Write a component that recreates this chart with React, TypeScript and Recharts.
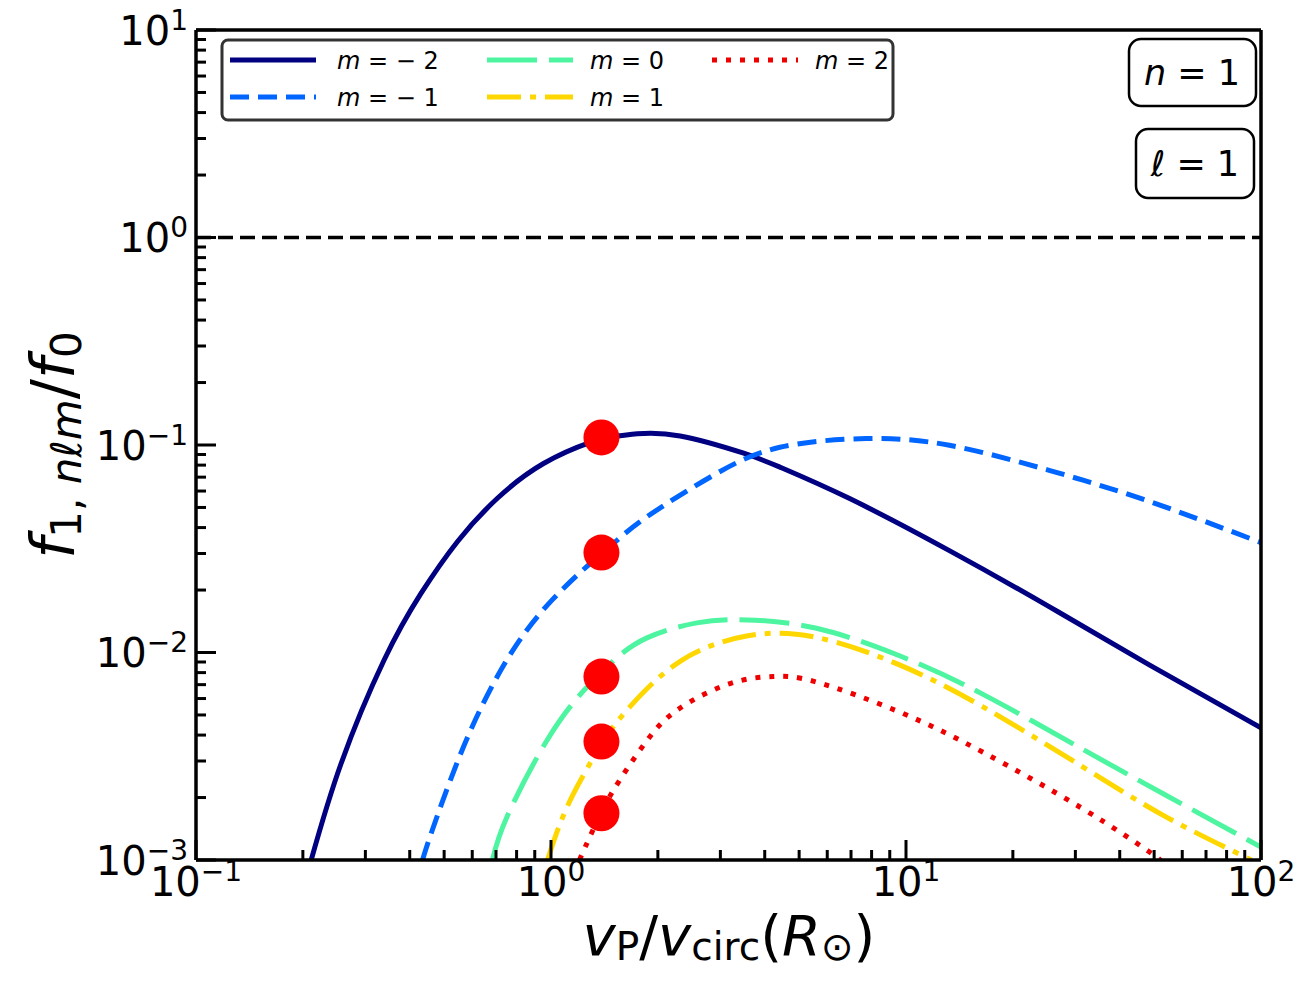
import React from 'react';
import { ComposedChart, Line, Scatter, XAxis, YAxis, ReferenceLine } from 'recharts';

// ---- data ----
const mNeg2X = [0.2111, 0.2563, 0.3385, 0.4299, 0.5462, 0.7077, 0.9526, 1.291, 1.498, 1.75, 2.311, 3.472, 4.412, 6.938, 13.25, 25.3, 48.31, 100];
const mNeg2Y = [0.001, 0.002918, 0.009172, 0.0192, 0.03439, 0.05555, 0.08141, 0.10292, 0.10965, 0.11324, 0.11051, 0.09151, 0.07824, 0.05517, 0.03097, 0.01664, 0.008744, 0.00433];

const mNeg1X = [0.4346, 0.4637, 0.5508, 0.6618, 0.8036, 1.0078, 1.2769, 1.501, 1.8632, 2.866, 4.412, 7.731, 13.25, 25.3, 48.31, 100];
const mNeg1Y = [0.001, 0.001403, 0.003112, 0.006226, 0.01104, 0.01793, 0.02646, 0.0336, 0.04508, 0.07145, 0.09748, 0.10735, 0.09968, 0.07551, 0.05355, 0.03386];

const m0X = [0.6837, 0.7534, 0.9757, 1.2361, 1.501, 1.8632, 2.574, 3.557, 5.595, 9.587, 16.43, 31.38, 53.82, 100];
const m0Y = [0.001, 0.001629, 0.003787, 0.006553, 0.009141, 0.01176, 0.01389, 0.01436, 0.01308, 0.00964, 0.006302, 0.003423, 0.002057, 0.001154];

const m1X = [0.9776, 1.0409, 1.1589, 1.4018, 1.6722, 2.311, 3.557, 5.595, 9.587, 16.43, 31.38, 53.82, 94.0];
const m1Y = [0.001, 0.001373, 0.002098, 0.003712, 0.005503, 0.00907, 0.01201, 0.01183, 0.008713, 0.005485, 0.002819, 0.001619, 0.001];

const m2X = [1.2025, 1.319, 1.3866, 1.501, 1.8632, 2.311, 3.193, 4.225, 5.595, 9.587, 16.43, 31.38, 48.31, 51.88];
const m2Y = [0.001, 0.001418, 0.001684, 0.002175, 0.003766, 0.0054, 0.007088, 0.007661, 0.007207, 0.005167, 0.003315, 0.001771, 0.001099, 0.001];

const dotX = [1.387, 1.387, 1.387, 1.387, 1.387];
const dotY = [0.1087, 0.0303, 0.00766, 0.00372, 0.00168];

const xMajorTicks = [0.1, 1, 10, 100];
const xMinorTicks = [0.2, 0.3, 0.4, 0.5, 0.6, 0.7, 0.8, 0.9, 2, 3, 4, 5, 6, 7, 8, 9, 20, 30, 40, 50, 60, 70, 80, 90];
const yMajorTicks = [0.001, 0.01, 0.1, 1, 10];
const yMinorTicks = [
  0.002, 0.003, 0.004, 0.005, 0.006, 0.007, 0.008, 0.009,
  0.02, 0.03, 0.04, 0.05, 0.06, 0.07, 0.08, 0.09,
  0.2, 0.3, 0.4, 0.5, 0.6, 0.7, 0.8, 0.9,
  2, 3, 4, 5, 6, 7, 8, 9,
];

const seriesNames = ['m = − 2', 'm = − 1', 'm = 0', 'm = 1', 'm = 2'];
const seriesColors = ['#000080', '#0066ff', '#4ef5a0', '#ffd700', '#ee0000'];
const seriesDash = ['', '19 9', '50 12', '34 9 6 9', '5 9'];

const pts = (xs: number[], ys: number[]) => xs.map((x, i) => ({ x, y: ys[i] }));
const seriesData = [pts(mNeg2X, mNeg2Y), pts(mNeg1X, mNeg1Y), pts(m0X, m0Y), pts(m1X, m1Y), pts(m2X, m2Y)];
const dotData = pts(dotX, dotY);

const allXTicks = [...xMajorTicks, ...xMinorTicks].sort((a, b) => a - b);
const allYTicks = [...yMajorTicks, ...yMinorTicks].sort((a, b) => a - b);

const FONT = 'DejaVu Sans';
const X_DOMAIN: [number, number] = [0.1, 100];
const Y_DOMAIN: [number, number] = [0.001, 10];

const isMajor = (v: number) => {
  const l = Math.log10(v);
  return Math.abs(l - Math.round(l)) < 1e-6;
};

const expText = (v: number) => {
  const e = Math.round(Math.log10(v));
  return e < 0 ? '−' + String(-e) : String(e);
};

// x tick: inward tick mark plus (for decades) the 10^n label
const XTick = (props: any) => {
  const { x, y, payload } = props;
  const major = isMajor(payload.value);
  return (
    <g>
      <line x1={x} x2={x} y1={y} y2={y - (major ? 20 : 10)} stroke="#000" strokeWidth={3} />
      {major && (
        <text x={x} y={y + 36} textAnchor="middle" fontFamily={FONT} fontSize={40} fill="#000">
          10<tspan fontSize={28} dy={-15}>{expText(payload.value)}</tspan>
        </text>
      )}
    </g>
  );
};

// y tick: inward tick mark plus (for decades) the 10^n label
const YTick = (props: any) => {
  const { x, y, payload } = props;
  const major = isMajor(payload.value);
  return (
    <g>
      <line x1={x} x2={x + (major ? 20 : 10)} y1={y} y2={y} stroke="#000" strokeWidth={3} />
      {major && (
        <text x={x - 8} y={y + 14.5} textAnchor="end" fontFamily={FONT} fontSize={40} fill="#000">
          10<tspan fontSize={28} dy={-15}>{expText(payload.value)}</tspan>
        </text>
      )}
    </g>
  );
};

const RedDot = (props: any) => {
  const { cx, cy } = props;
  return <circle cx={cx} cy={cy} r={18} fill="#ff0000" />;
};

const spine = { stroke: '#000', strokeWidth: 3.5 };

const LegendBox = () => {
  const cols = [
    { lineX: 230, textX: 337 },
    { lineX: 487, textX: 590 },
    { lineX: 712, textX: 815 },
  ];
  const rowsY = [60, 97];
  const lineLen = 86;
  const items = seriesNames.map((name, i) => {
    const col = cols[Math.floor(i / 2)];
    const rowY = rowsY[i % 2];
    return { name, i, col, rowY };
  });
  return (
    <g>
      <rect x={222} y={40} width={671} height={80} rx={6} ry={6} fill="rgba(255,255,255,0.85)" stroke="#333" strokeWidth={3} />
      {items.map(({ name, i, col, rowY }) => (
        <g key={name}>
          <line
            x1={col.lineX}
            x2={col.lineX + lineLen}
            y1={rowY}
            y2={rowY}
            stroke={seriesColors[i]}
            strokeWidth={5}
            strokeDasharray={seriesDash[i] || undefined}
          />
          <text x={col.textX} y={rowY + 9} fontFamily={FONT} fontSize={24} fill="#000">
            <tspan fontStyle="italic">m</tspan>
            {name.slice(1)}
          </text>
        </g>
      ))}
    </g>
  );
};

const Overlay = () => (
  <svg width={1300} height={1000} style={{ position: 'absolute', left: 0, top: 0, pointerEvents: 'none' }}>
    <LegendBox />
    {/* n = 1 */}
    <rect x={1129} y={39} width={127} height={67} rx={12} ry={12} fill="#fff" stroke="#000" strokeWidth={2.5} />
    <text x={1192} y={85} textAnchor="middle" fontFamily={FONT} fontSize={35} fill="#000">
      <tspan fontStyle="italic">n</tspan> = 1
    </text>
    {/* l = 1 */}
    <rect x={1136} y={129} width={118} height={69} rx={12} ry={12} fill="#fff" stroke="#000" strokeWidth={2.5} />
    <text x={1195} y={176} textAnchor="middle" fontFamily={FONT} fontSize={35} fill="#000">
      <tspan fontStyle="italic">ℓ</tspan> = 1
    </text>
    {/* x axis title */}
    <text x={729} y={955} textAnchor="middle" fontFamily={FONT} fontSize={56} fill="#000">
      <tspan fontStyle="italic">v</tspan>
      <tspan fontSize={39} dy={5}>P</tspan>
      <tspan dy={-5}>/</tspan>
      <tspan fontStyle="italic">v</tspan>
      <tspan fontSize={39} dy={5}>circ</tspan>
      <tspan dy={-5}>(</tspan>
      <tspan fontStyle="italic">R</tspan>
      <tspan fontSize={39} dy={5}>⊙</tspan>
      <tspan dy={-5}>)</tspan>
    </text>
    {/* y axis title */}
    <text transform="translate(74,445) rotate(-90)" textAnchor="middle" fontFamily={FONT} fontSize={60} fill="#000">
      <tspan fontStyle="italic">f</tspan>
      <tspan fontSize={42} dy={7}>1, </tspan>
      <tspan fontSize={42} fontStyle="italic">nℓm</tspan>
      <tspan dy={-7}>/</tspan>
      <tspan fontStyle="italic">f</tspan>
      <tspan fontSize={42} dy={7}>0</tspan>
    </text>
  </svg>
);

export default function App() {
  return (
    <div style={{ position: 'absolute', left: 0, top: 0, width: 1300, height: 1000, background: '#fff' }}>
      <ComposedChart width={1300} height={1000} margin={{ top: 30, right: 39, bottom: 0, left: 0 }}>
        <XAxis
          xAxisId="x"
          dataKey="x"
          type="number"
          scale="log"
          domain={X_DOMAIN}
          allowDataOverflow
          ticks={allXTicks}
          interval={0}
          height={140}
          axisLine={spine}
          tickLine={false}
          tickSize={0}
          tickMargin={0}
          tick={<XTick />}
        />
        <YAxis
          yAxisId="y"
          dataKey="y"
          type="number"
          scale="log"
          domain={Y_DOMAIN}
          allowDataOverflow
          ticks={allYTicks}
          interval={0}
          width={196}
          axisLine={spine}
          tickLine={false}
          tickSize={0}
          tickMargin={0}
          tick={<YTick />}
        />
        {/* top and right frame lines */}
        <XAxis xAxisId="xtop" orientation="top" type="number" scale="log" domain={X_DOMAIN} allowDataOverflow mirror tick={false} tickLine={false} axisLine={spine} height={1} />
        <YAxis yAxisId="yright" orientation="right" type="number" scale="log" domain={Y_DOMAIN} allowDataOverflow mirror tick={false} tickLine={false} axisLine={spine} width={1} />

        <ReferenceLine xAxisId="x" yAxisId="y" y={1} stroke="#000" strokeWidth={3.5} strokeDasharray="15 7" />

        <Scatter xAxisId="x" yAxisId="y" data={dotData} dataKey="y" shape={<RedDot />} isAnimationActive={false} />

        {seriesData.map((d, i) => (
          <Line
            key={seriesNames[i]}
            xAxisId="x"
            yAxisId="y"
            data={d}
            dataKey="y"
            type="natural"
            stroke={seriesColors[i]}
            strokeWidth={5}
            strokeDasharray={seriesDash[i] || undefined}
            dot={false}
            activeDot={false}
            isAnimationActive={false}
          />
        ))}
      </ComposedChart>
      <Overlay />
    </div>
  );
}
